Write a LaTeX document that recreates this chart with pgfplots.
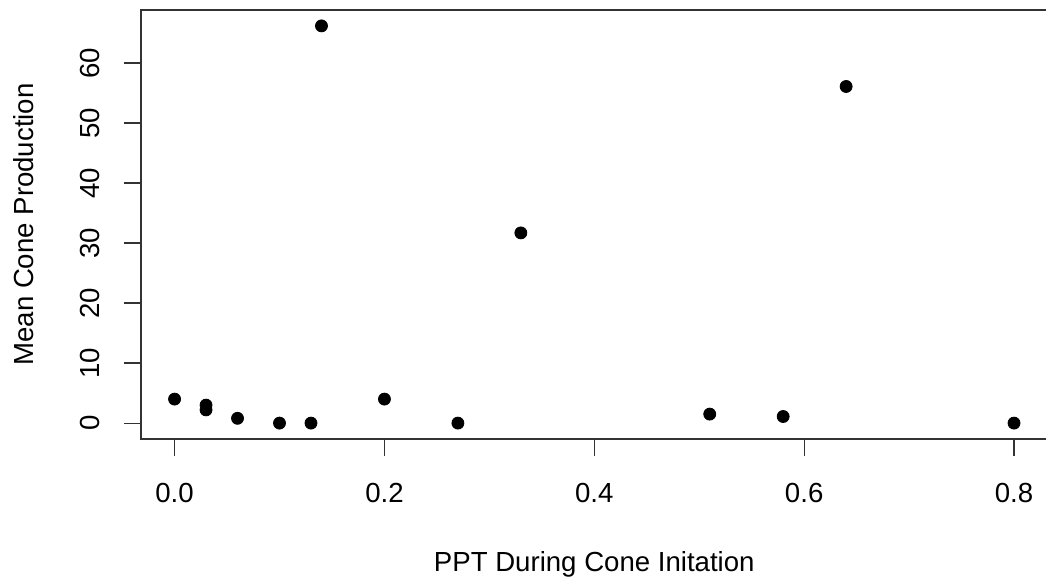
\documentclass[border=0pt]{standalone}
\usepackage{fontspec}
\setmainfont{Liberation Sans}
\usepackage{pgfplots}
\pgfplotsset{compat=1.18}
\begin{document}
\fontsize{13.8pt}{16pt}\selectfont
\begin{tikzpicture}
\useasboundingbox (-70.5pt,-74pt) rectangle (452.5pt,219.5pt);
\begin{axis}[
 at={(0,0)}, anchor=south west,
 scale only axis, width=453.3pt, height=214.5pt,
 xmin=-0.032, xmax=0.832, ymin=-2.648, ymax=68.848,
 xtick={0,0.2,0.4,0.6,0.8}, ytick={0,10,20,30,40,50,60},
 xtick pos=left, ytick pos=left, tick align=outside,
 major tick length=8.5pt,
 axis line style={black!80, line width=0.6pt},
 every tick/.style={black!80, line width=0.6pt},
 /pgf/number format/assume math mode=true,
 every tick label/.append style={font=\fontsize{13.8pt}{16pt}\selectfont, inner sep=0pt},
 xticklabel style={anchor=base, yshift=-23.5pt, /pgf/number format/fixed, /pgf/number format/fixed zerofill, /pgf/number format/precision=1},
 yticklabel style={xshift=-12pt, rotate=90, anchor=base},
 xlabel={PPT During Cone Initation},
 ylabel={Mean Cone Production},
 label style={font=\fontsize{13.8pt}{16pt}\selectfont, inner sep=0pt},
 xlabel style={at={(axis description cs:0.5,-0.31)}, anchor=base},
 ylabel style={at={(axis description cs:-0.1191,0.5)}, anchor=base},
]
\addplot[only marks, mark=*, mark size=3pt, mark options={fill=black, draw=black}] coordinates {
(0.00,4.0) (0.03,3.0) (0.03,2.2) (0.06,0.8) (0.10,0) (0.13,0) (0.14,66.2)
(0.20,4.0) (0.27,0) (0.33,31.7) (0.51,1.5) (0.58,1.1) (0.64,56.1) (0.80,0)
};
\end{axis}
\end{tikzpicture}
\end{document}
